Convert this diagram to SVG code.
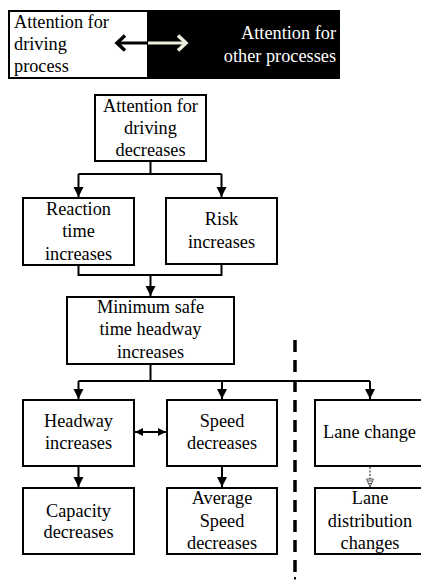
<svg xmlns="http://www.w3.org/2000/svg" width="421" height="581" viewBox="0 0 421 581" font-family="'Liberation Serif', 'Times New Roman', serif">
<style>
text{font-family:"Liberation Serif","Times New Roman",serif;font-size:18.3px;fill:#000}
.c{text-anchor:middle}
.box{fill:#fff;stroke:#000;stroke-width:2}
.ln{fill:none;stroke:#000;stroke-width:2}
</style>
<defs>
<marker id="ah" markerUnits="userSpaceOnUse" markerWidth="12" markerHeight="12" viewBox="0 0 12 12" refX="11" refY="6" orient="auto">
<path d="M1,1 L11,6 L1,11 Z" fill="#000"/>
</marker>
<marker id="ahs" markerUnits="userSpaceOnUse" markerWidth="10" markerHeight="10" viewBox="0 0 10 10" refX="9" refY="5" orient="auto-start-reverse">
<path d="M1,1 L9,5 L1,9 Z" fill="#000"/>
</marker>
<marker id="ahg" markerUnits="userSpaceOnUse" markerWidth="10" markerHeight="10" viewBox="0 0 10 10" refX="9" refY="5" orient="auto">
<path d="M1,1.5 L9,5 L1,8.5 Z" fill="#fff" stroke="#555" stroke-width="1"/>
<path d="M3,2.5 V7.5 M5.5,3.5 V6.5" stroke="#555" stroke-width="1"/>
</marker>
</defs>

<g id="banner">
<rect x="9" y="11" width="139" height="67" fill="#fff" stroke="#000" stroke-width="2"/>
<rect x="148" y="10" width="192" height="69" fill="#000"/>
<text x="14" y="28">Attention for</text>
<text x="14" y="50">driving</text>
<text x="14" y="72">process</text>
<text x="336" y="39" text-anchor="end" style="fill:#fff">Attention for</text>
<text x="336" y="62" text-anchor="end" style="fill:#fff">other processes</text>
<path d="M117,43 H148" stroke="#000" stroke-width="3" fill="none"/>
<path d="M125,35.5 L117,43 L125,50.5" stroke="#000" stroke-width="3.5" fill="none"/>
<path d="M148,43 H185" stroke="#eeeedd" stroke-width="3" fill="none"/>
<path d="M178,35.5 L186,43 L178,50.5" stroke="#eeeedd" stroke-width="3.5" fill="none"/>
</g>

<g id="connectors">
<path class="ln" d="M150.5,161 V174 M78.5,174 H221.5"/>
<path class="ln" d="M78.5,174 V197" marker-end="url(#ah)"/>
<path class="ln" d="M221.5,174 V197" marker-end="url(#ah)"/>
<path class="ln" d="M78.5,265 V275 H221.5 V264"/>
<path class="ln" d="M150.5,275 V296" marker-end="url(#ah)"/>
<path class="ln" d="M150.5,364 V381 M78.5,381 H370"/>
<path class="ln" d="M78.5,381 V399" marker-end="url(#ah)"/>
<path class="ln" d="M222,381 V399" marker-end="url(#ah)"/>
<path class="ln" d="M370,381 V399" marker-end="url(#ah)"/>
<path class="ln" d="M135,432 H166" marker-start="url(#ahs)" marker-end="url(#ahs)"/>
<path class="ln" d="M78.5,466 V487" marker-end="url(#ah)"/>
<path class="ln" d="M222,466 V487" marker-end="url(#ah)"/>
<path d="M370,467 V487" fill="none" stroke="#666" stroke-width="1.5" stroke-dasharray="2 1.5" marker-end="url(#ahg)"/>
<path d="M295,340 V573" fill="none" stroke="#000" stroke-width="3.5" stroke-dasharray="12 8"/>
<path d="M295,577 V579.5" fill="none" stroke="#000" stroke-width="2"/>
</g>

<g id="n-attention">
<rect class="box" x="95" y="95" width="111" height="66"/>
<text class="c" x="150.5" y="112">Attention for</text>
<text class="c" x="150.5" y="134">driving</text>
<text class="c" x="150.5" y="156">decreases</text>
</g>
<g id="n-reaction">
<rect class="box" x="23" y="198" width="111" height="67"/>
<text class="c" x="78.5" y="215">Reaction</text>
<text class="c" x="78.5" y="237">time</text>
<text class="c" x="78.5" y="260">increases</text>
</g>
<g id="n-risk">
<rect class="box" x="166" y="198" width="111" height="66"/>
<text class="c" x="221.5" y="225">Risk</text>
<text class="c" x="221.5" y="248">increases</text>
</g>
<g id="n-minimum">
<rect class="box" x="67" y="297" width="167" height="67"/>
<text class="c" x="150.5" y="313">Minimum safe</text>
<text class="c" x="150.5" y="335">time headway</text>
<text class="c" x="150.5" y="358">increases</text>
</g>
<g id="n-headway">
<rect class="box" x="23" y="400" width="111" height="66"/>
<text class="c" x="78.5" y="427">Headway</text>
<text class="c" x="78.5" y="449">increases</text>
</g>
<g id="n-speed">
<rect class="box" x="167" y="400" width="110" height="66"/>
<text class="c" x="222" y="427">Speed</text>
<text class="c" x="222" y="449">decreases</text>
</g>
<g id="n-lanechange">
<rect class="box" x="315" y="400" width="120" height="66"/>
<text class="c" x="369.5" y="438">Lane change</text>
</g>
<g id="n-capacity">
<rect class="box" x="23" y="488" width="111" height="66"/>
<text class="c" x="78.5" y="517">Capacity</text>
<text class="c" x="78.5" y="538">decreases</text>
</g>
<g id="n-avgspeed">
<rect class="box" x="167" y="488" width="110" height="66"/>
<text class="c" x="222" y="504">Average</text>
<text class="c" x="222" y="527">Speed</text>
<text class="c" x="222" y="549">decreases</text>
</g>
<g id="n-lanedist">
<rect class="box" x="315" y="488" width="120" height="66"/>
<text class="c" x="370" y="504">Lane</text>
<text class="c" x="370" y="527">distribution</text>
<text class="c" x="370" y="549">changes</text>
</g>
</svg>
